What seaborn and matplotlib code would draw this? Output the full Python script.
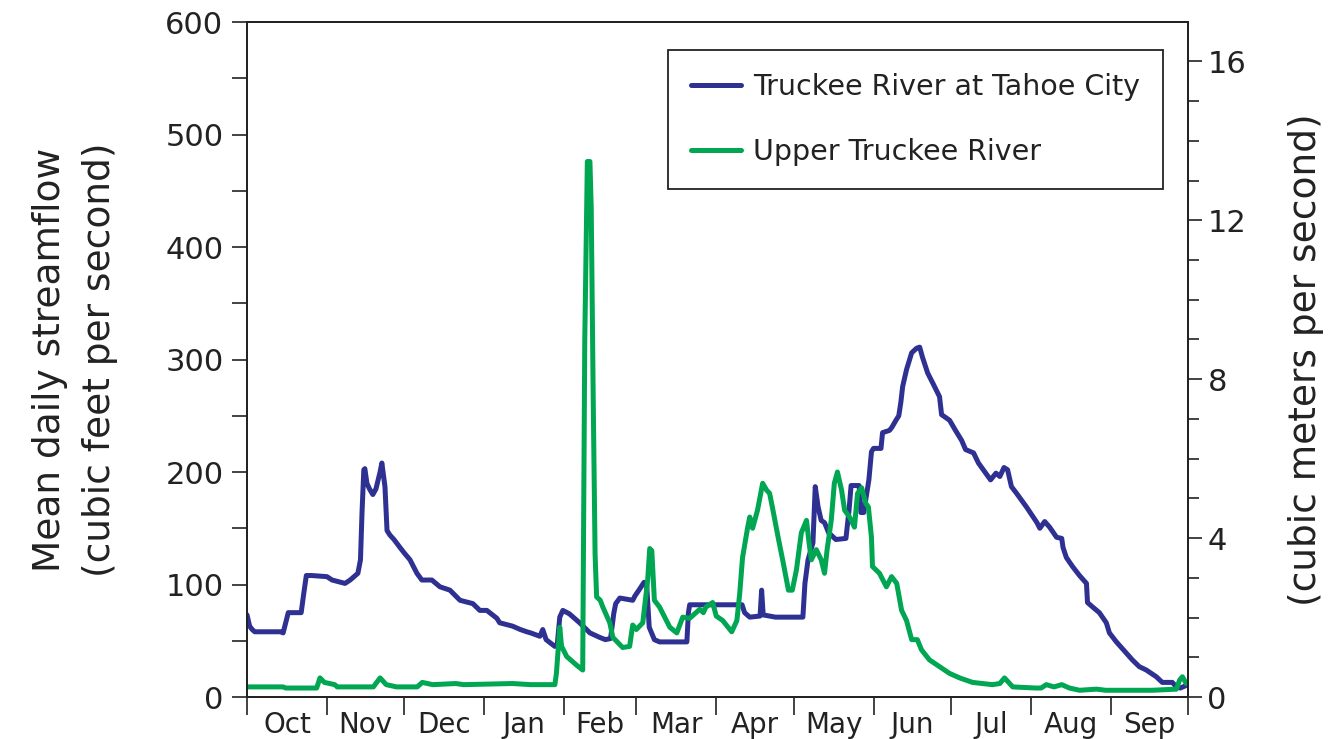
import numpy as np
import pandas as pd
import matplotlib
matplotlib.use("Agg")
import matplotlib.pyplot as plt
from matplotlib.ticker import MultipleLocator, FixedLocator, NullFormatter
from matplotlib.lines import Line2D
import seaborn as sns

# Water-year months and the day (from Oct 1) each one starts on
months = ["Oct", "Nov", "Dec", "Jan", "Feb", "Mar", "Apr", "May", "Jun", "Jul", "Aug", "Sep"]
month_start = [0, 31, 61, 92, 123, 151, 182, 212, 243, 273, 304, 335, 365]

# Truckee River at Tahoe City, mean daily streamflow (cfs)
tahoe_day = [0, 1, 2, 3, 13, 14, 15, 16, 21, 22, 23, 25, 31, 33, 38, 40, 42, 43, 44,
             44.6, 45.3, 45.7, 46.5, 47.5, 48.8, 50, 51.6, 52.3, 53.5, 54.3, 55.4, 57,
             59.3, 61, 63.2, 65.9, 67.8, 71.7, 74.8, 78.7, 82.6, 87.6, 90.3, 93, 96.9,
             98, 103, 106, 108.5, 110, 113.6, 114.7, 116, 119.4, 120.3, 121.3, 122.5,
             125, 129, 133, 136.8, 139, 141, 142.3, 143, 144.6, 149.6, 150.5, 152, 154,
             155, 156, 158, 160, 164, 170.6, 171.2, 171.7, 176.7, 192, 193, 195, 199,
             199.6, 200.2, 205, 210, 215.6, 216.4, 217.6, 219.5, 220.4, 221.5, 222.7,
             224, 225.6, 228.4, 232.3, 233.5, 234.3, 237.4, 238.1, 239.2, 241.2, 242.2,
             243, 245.9, 246.5, 249.2, 250.2, 251.7, 252.8, 253.6, 254.3, 255.8, 257.8,
             259.7, 260.9, 262, 264, 266, 268.6, 269.4, 272.5, 274.8, 277.2, 278.7,
             281.8, 283.7, 286.5, 288.4, 290.5, 292, 293.6, 295, 296.5, 298.5, 302.3,
             306.4, 307.5, 309.4, 311.3, 314, 316, 316.5, 317.8, 320.2, 322.9, 325.6,
             326, 328, 330.6, 333.3, 334.5, 337.2, 341.1, 343.4, 346.1, 348.8, 352.7,
             355, 358.9, 360.5, 362, 364]
tahoe_cfs = [73, 63, 60, 58, 58, 57, 66, 75, 75, 92, 108, 108, 107, 104, 101, 104, 108, 110, 122,
             164, 202, 203, 190, 185, 180, 185, 200, 208, 187, 148, 144, 140,
             133, 128, 122, 110, 104, 104, 98, 95, 86, 83, 77, 77, 70,
             66, 63, 60, 58, 57, 54, 60, 51, 45, 46, 71, 77,
             74, 66, 57, 53, 51, 52, 75, 83, 88, 86, 90, 95, 102,
             100, 62, 51, 49, 49, 49, 75, 82, 82, 82, 75, 71, 72,
             95, 73, 71, 71, 71, 101, 122, 137, 187, 169, 157,
             155, 146, 140, 141, 166, 188, 188, 164, 164, 193, 218,
             221, 221, 235, 237, 240, 246, 250, 262, 276, 291, 306,
             310, 311, 302, 288, 279, 267, 251, 246, 237, 228, 220,
             217, 208, 199, 193, 199, 196, 204, 202, 187, 181, 169,
             155, 150, 156, 151, 142, 141, 133, 124, 116, 108, 101,
             84, 80, 75, 66, 57, 49, 39, 33, 27, 24, 18,
             13, 13, 9, 8, 10]

# Upper Truckee River, mean daily streamflow (cfs)
upper_day = [0, 14, 15, 27, 28.3, 30, 34, 35, 49, 51.6, 54, 58, 66, 68, 72, 81, 84, 103,
             110, 119.4, 120, 121.3, 122, 124, 128, 130.2, 131, 132, 133, 133.5, 134.3,
             135, 135.6, 137, 138, 140.7, 141.9, 145.7, 148.4, 149.6, 151, 153.5, 155.4,
             156.2, 157, 158, 160, 164, 166.7, 169, 171.7, 175.6, 177, 178, 180.6, 182,
             184.5, 188, 190, 191.1, 192.2, 194.2, 195, 196.1, 198, 200, 201.5, 202.7,
             204, 206, 208, 210, 211.5, 213.1, 215, 217, 218, 218.9, 220.8, 222.7, 224,
             225, 226.6, 227.8, 229, 230.6, 231.8, 233.7, 235.6, 236.8, 238.4, 240, 241,
             242.2, 242.6, 245.3, 248, 250, 252, 253.9, 255.8, 257.8, 260, 261.6, 264.7,
             268.6, 272.5, 276.4, 281.4, 289.1, 292, 293.8, 297, 306, 308, 310, 313, 316,
             319, 322.9, 329.5, 333, 351, 360.5, 361.7, 362.8, 364.3]
upper_cfs = [9, 9, 8, 8, 17, 13, 11, 9, 9, 17, 11, 9, 9, 13, 11, 12, 11, 12,
             11, 11, 21, 62, 45, 36, 28, 24, 317, 476, 476, 435, 260,
             127, 89, 86, 80, 66, 53, 44, 45, 64, 60, 66, 104,
             132, 130, 86, 80, 62, 57, 71, 70, 78, 75, 80, 84, 72,
             68, 58, 68, 92, 124, 151, 160, 150, 166, 190, 184, 181,
             166, 142, 119, 95, 95, 113, 146, 157, 137, 122, 131, 122, 110,
             131, 157, 190, 200, 184, 166, 160, 151, 181, 186, 172, 169,
             142, 116, 110, 98, 107, 101, 77, 68, 51, 51, 42, 33,
             27, 21, 17, 13, 11, 12, 17, 9, 8, 8, 11, 9, 11,
             8, 6, 7, 6, 6, 7, 15, 18, 12]

CFS_PER_CMS = 35.3147
blue = "#2e3192"
green = "#00a651"
ink = "#222222"

flows = pd.concat([
    pd.DataFrame({"day": tahoe_day, "cfs": tahoe_cfs, "river": "Truckee River at Tahoe City"}),
    pd.DataFrame({"day": upper_day, "cfs": upper_cfs, "river": "Upper Truckee River"}),
], ignore_index=True)

sns.set_theme(style="white")
plt.rcParams["font.family"] = ["DejaVu Sans"]

fig = plt.figure(figsize=(13.31, 7.39), dpi=100)
ax = fig.add_axes([0.1856, 0.0568, 0.7070, 0.9134])

sns.lineplot(data=flows, x="day", y="cfs", hue="river",
             palette={"Truckee River at Tahoe City": blue, "Upper Truckee River": green},
             estimator=None, sort=False, linewidth=3.6, legend=False, ax=ax)

ax.set_xlim(0, 365)
ax.set_ylim(0, 600)
ax.set_xlabel("")
ax.set_ylabel("Mean daily streamflow\n(cubic feet per second)", fontsize=27,
              color=ink, labelpad=34, linespacing=1.5)

# y axis: major every 100, minor every 50
ax.yaxis.set_major_locator(MultipleLocator(100))
ax.yaxis.set_minor_locator(MultipleLocator(50))
ax.tick_params(axis="y", which="both", direction="out", length=11, width=1.2,
               colors=ink, labelsize=22, left=True, pad=6)

# x axis: ticks at month boundaries, labels at month centres
ax.xaxis.set_major_locator(FixedLocator(month_start))
ax.xaxis.set_major_formatter(NullFormatter())
mids = [(a + b) / 2 for a, b in zip(month_start[:-1], month_start[1:])]
ax.xaxis.set_minor_locator(FixedLocator(mids))
ax.set_xticklabels(months, minor=True)
ax.tick_params(axis="x", which="major", direction="out", length=13, width=1.2,
               colors=ink, bottom=True)
ax.tick_params(axis="x", which="minor", length=0, labelsize=20, pad=10,
               labelcolor=ink, bottom=True)

for side in ["left", "bottom", "right", "top"]:
    ax.spines[side].set_color(ink)
    ax.spines[side].set_linewidth(1.3)

# Secondary axis in cubic meters per second
ax2 = ax.twinx()
ax2.set_ylim(0, 600 / CFS_PER_CMS)
ax2.yaxis.set_major_locator(FixedLocator([0, 4, 8, 12, 16]))
ax2.yaxis.set_minor_locator(MultipleLocator(1))
ax2.tick_params(axis="y", which="major", direction="out", length=10, width=1.2,
                colors=ink, labelsize=22, right=True, pad=4)
ax2.tick_params(axis="y", which="minor", direction="out", length=8, width=1.2,
                colors=ink, right=True)
ax2.set_ylabel("(cubic meters per second)", fontsize=27, color=ink, labelpad=30)
for side in ["left", "bottom", "right", "top"]:
    ax2.spines[side].set_color(ink)
    ax2.spines[side].set_linewidth(1.3)
ax2.grid(False)

handles = [Line2D([], [], color=blue, lw=3.6), Line2D([], [], color=green, lw=3.6)]
leg = ax.legend(handles, ["Truckee River at Tahoe City", "Upper Truckee River"],
                loc="upper right", bbox_to_anchor=(0.973, 0.9585), fontsize=20.5,
                frameon=True, fancybox=False, edgecolor=ink, framealpha=1,
                handlelength=1.75, handletextpad=0.42, labelspacing=1.3,
                borderpad=0.8, borderaxespad=0)
leg.get_frame().set_linewidth(1.3)
for t in leg.get_texts():
    t.set_color(ink)

fig.savefig("out.png", dpi=100)
